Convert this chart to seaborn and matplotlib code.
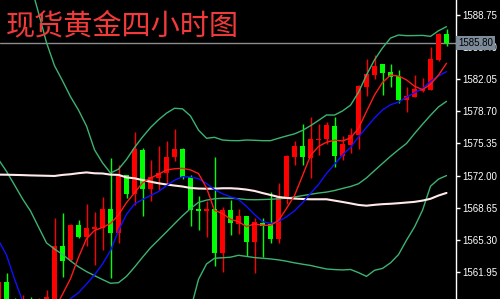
import numpy as np
import matplotlib
matplotlib.use("Agg")
import matplotlib.pyplot as plt
import seaborn as sns

# ---------------- data ----------------
title = "现货黄金四小时图"
bar_index = list(range(-1, 56))

opens = [1557.0, 1560.9, 1558.6, 1557.5, 1559.0, 1557.6, 1558.6, 1559.0, 1564.69, 1563.20,
         1566.85, 1565.63, 1566.47, 1566.57, 1568.52, 1566.05, 1572.07, 1570.08, 1574.67, 1570.61,
         1571.78, 1572.24, 1573.91, 1574.78, 1571.86, 1568.55, 1568.34, 1568.55, 1563.96, 1568.42,
         1566.92, 1567.82, 1565.11, 1567.03, 1566.92, 1565.36, 1569.64, 1573.97, 1575.06, 1573.87,
         1575.71, 1575.79, 1577.17, 1574.08, 1575.19, 1576.24, 1581.27, 1582.49, 1583.64, 1582.77,
         1582.39, 1579.89, 1580.23, 1580.82, 1580.93, 1584.06, 1586.77]
highs = [1561.4, 1561.85, 1559.2, 1559.55, 1559.3, 1559.2, 1560.07, 1567.61, 1568.10, 1566.95,
         1567.37, 1569.04, 1568.21, 1569.77, 1573.84, 1573.11, 1572.07, 1576.52, 1574.85, 1573.63,
         1575.09, 1575.61, 1576.86, 1574.91, 1572.07, 1569.88, 1569.35, 1573.94, 1568.73, 1569.46,
         1568.49, 1567.82, 1567.61, 1567.55, 1570.26, 1571.20, 1574.12, 1575.61, 1577.38, 1578.11,
         1577.38, 1577.59, 1578.14, 1576.13, 1576.94, 1581.45, 1584.13, 1584.58, 1583.64, 1583.64,
         1583.01, 1581.21, 1582.49, 1582.15, 1585.38, 1586.90, 1587.26]
lows = [1556.0, 1557.5, 1557.0, 1557.0, 1556.8, 1557.0, 1558.0, 1558.6, 1561.46, 1563.10,
        1565.53, 1564.69, 1562.68, 1564.28, 1561.32, 1565.01, 1569.64, 1568.94, 1567.82, 1569.35,
        1570.50, 1571.26, 1573.56, 1571.62, 1566.75, 1566.33, 1565.63, 1562.58, 1561.98, 1565.81,
        1565.91, 1563.65, 1561.88, 1563.48, 1565.01, 1564.94, 1569.04, 1573.11, 1573.11, 1571.72,
        1574.15, 1575.27, 1572.93, 1573.63, 1574.33, 1574.75, 1580.33, 1582.04, 1580.41, 1581.27,
        1579.60, 1578.67, 1580.23, 1580.75, 1580.93, 1583.95, 1585.55]
closes = [1560.9, 1558.5, 1557.8, 1559.0, 1557.6, 1558.8, 1559.3, 1564.69, 1563.10, 1566.85,
          1565.63, 1566.57, 1566.64, 1568.52, 1566.05, 1571.93, 1570.08, 1574.78, 1570.57, 1571.89,
          1572.27, 1573.94, 1574.78, 1571.86, 1568.45, 1568.34, 1568.55, 1563.96, 1568.45, 1567.03,
          1567.82, 1565.11, 1567.13, 1566.78, 1565.36, 1569.80, 1574.05, 1575.06, 1573.91, 1575.82,
          1575.85, 1577.25, 1574.08, 1575.27, 1576.24, 1581.35, 1582.60, 1583.43, 1582.73, 1582.32,
          1579.89, 1580.30, 1581.03, 1581.03, 1584.16, 1586.77, 1585.80]

bb_upper = [1603.66, 1600.74, 1597.93, 1595.01, 1591.98, 1588.98, 1585.86, 1583.46, 1581.89, 1580.23,
            1578.83, 1577.17, 1574.69, 1573.33, 1572.27, 1572.67, 1573.68, 1574.93, 1576.02, 1577.01,
            1577.82, 1578.51, 1579.02, 1578.96, 1578.22, 1576.74, 1575.89, 1575.99, 1575.71, 1575.65,
            1575.64, 1575.71, 1575.68, 1575.64, 1575.64, 1575.89, 1576.13, 1576.35, 1576.71, 1577.20,
            1577.75, 1578.32, 1578.31, 1578.74, 1579.34, 1580.68, 1582.50, 1584.07, 1585.31, 1586.34,
            1586.66, 1586.59, 1586.60, 1586.62, 1586.52, 1587.10, 1587.53]
bb_middle = [1573.68, 1572.44, 1571.02, 1569.58, 1568.31, 1566.64, 1564.98, 1564.34, 1563.78, 1563.10,
             1562.49, 1561.99, 1561.57, 1561.16, 1560.77, 1560.83, 1561.49, 1562.45, 1563.48, 1564.47,
             1565.30, 1566.13, 1566.98, 1567.81, 1568.56, 1569.21, 1569.44, 1569.58, 1569.64, 1569.64,
             1569.59, 1569.50, 1569.48, 1569.50, 1569.53, 1569.58, 1569.64, 1569.77, 1569.91, 1570.05,
             1570.18, 1570.28, 1570.44, 1570.66, 1570.86, 1571.15, 1571.76, 1572.52, 1573.27, 1574.01,
             1574.70, 1575.35, 1576.38, 1577.35, 1578.29, 1579.16, 1579.74]
bb_lower = [1543.7, 1544.1, 1544.1, 1544.2, 1544.6, 1544.3, 1544.1, 1545.2, 1545.7, 1546.0,
            1546.2, 1546.8, 1548.5, 1549.0, 1549.3, 1549.0, 1549.3, 1550.0, 1550.9, 1551.9,
            1552.8, 1553.8, 1554.9, 1556.7, 1558.0, 1561.18, 1562.78, 1563.38, 1563.43, 1563.49,
            1563.69, 1563.57, 1563.45, 1563.38, 1563.31, 1563.21, 1563.07, 1562.90, 1562.76, 1562.63,
            1562.44, 1562.26, 1562.20, 1562.16, 1562.21, 1561.88, 1561.49, 1562.12, 1562.32, 1562.90,
            1563.76, 1565.26, 1566.64, 1568.38, 1570.89, 1571.63, 1572.00]
ma_fast = [1557.5, 1557.8, 1557.9, 1558.0, 1558.1, 1558.0, 1557.9, 1558.04, 1559.62, 1561.25,
           1563.48, 1565.42, 1566.28, 1566.59, 1567.01, 1567.89, 1569.18, 1570.20, 1571.25, 1571.75,
           1572.13, 1572.59, 1572.71, 1572.76, 1572.59, 1572.21, 1570.73, 1568.37, 1568.05, 1567.45,
           1567.19, 1566.68, 1566.96, 1566.82, 1566.81, 1567.31, 1568.57, 1569.92, 1571.98, 1574.09,
           1575.04, 1575.48, 1575.69, 1575.61, 1575.92, 1576.92, 1578.69, 1580.40, 1581.71, 1582.48,
           1582.38, 1581.98, 1581.32, 1580.96, 1581.51, 1582.48, 1583.71]
ma_mid = [1565.25, 1563.72, 1561.22, 1558.93, 1557.6, 1557.0, 1556.9, 1557.3, 1558.2, 1559.18,
          1559.78, 1560.69, 1561.64, 1562.77, 1564.16, 1566.27, 1567.96, 1569.04, 1569.50, 1569.92,
          1570.33, 1570.95, 1571.51, 1571.89, 1571.84, 1571.68, 1571.18, 1570.54, 1570.11, 1569.79,
          1569.51, 1568.78, 1567.95, 1567.20, 1567.01, 1567.21, 1567.71, 1568.32, 1569.16, 1570.14,
          1571.07, 1572.22, 1573.18, 1574.15, 1574.92, 1576.02, 1577.03, 1578.00, 1578.84, 1579.39,
          1579.66, 1580.17, 1580.65, 1581.06, 1581.83, 1582.39, 1582.84]
ma_slow = [1572.10, 1572.09, 1572.07, 1572.05, 1572.02, 1572.00, 1571.98, 1571.96, 1572.07, 1572.14,
           1572.25, 1572.33, 1572.24, 1572.22, 1572.10, 1572.07, 1571.81, 1571.72, 1571.53, 1571.36,
           1571.20, 1571.07, 1570.96, 1570.86, 1570.71, 1570.65, 1570.63, 1570.64, 1570.68, 1570.68,
           1570.63, 1570.54, 1570.40, 1570.18, 1569.98, 1569.77, 1569.67, 1569.60, 1569.56, 1569.53,
           1569.53, 1569.53, 1569.39, 1569.25, 1569.10, 1568.94, 1568.86, 1568.95, 1569.02, 1569.06,
           1569.12, 1569.19, 1569.26, 1569.39, 1569.58, 1569.92, 1570.19]

y_ticks = [1561.95, 1565.30, 1568.65, 1572.00, 1575.35, 1578.70, 1582.05, 1585.40, 1588.75]
last_price = 1585.80

# ---------------- styling ----------------
sns.set_theme(style="dark")
plt.rcParams["font.family"] = ["Liberation Sans", "DejaVu Sans"]

BG = "#000000"
UP = "#ff0000"
DOWN = "#00ff00"
BAND = "#3cb371"

fig = plt.figure(figsize=(5.0, 2.99), dpi=100, facecolor=BG)
ax = fig.add_axes([0, 0, 456 / 500, 1])
ax.set_facecolor(BG)

x = np.array(bar_index, dtype=float)
o = np.array(opens); h = np.array(highs); l = np.array(lows); c = np.array(closes)
up = c >= o
colors = np.where(up, UP, DOWN)

# current price line
ax.axhline(last_price, color="#8c8c8c", lw=1.0, zorder=1)

# candles
ax.vlines(x, l, h, colors=colors, linewidth=1.0, zorder=3)
body_bottom = np.minimum(o, c)
body_h = np.maximum(np.abs(c - o), 0.08)
ax.bar(x, body_h, bottom=body_bottom, width=0.62, color=colors, linewidth=0, zorder=4)

# indicator lines via seaborn
for vals, col, lw in [(bb_upper, BAND, 1.0), (bb_middle, BAND, 1.0), (bb_lower, BAND, 1.0),
                      (ma_slow, "#ffe9e9", 1.5), (ma_mid, "#1010ff", 1.0), (ma_fast, "#ff1a1a", 1.0)]:
    sns.lineplot(x=x, y=vals, ax=ax, color=col, linewidth=lw, legend=False,
                 estimator=None, sort=False, zorder=5)

ax.set_xlim(-0.8125, 56.1875)
ax.set_ylim(1559.13, 1590.31)
ax.set_xlabel("")
ax.set_ylabel("")
ax.set_xticks([])
ax.grid(False)

ax.yaxis.tick_right()
ax.set_yticks(y_ticks)
ax.set_yticklabels([f"{v:.2f}" for v in y_ticks])
ax.tick_params(axis="y", colors="white", length=3, width=1, pad=1.5, labelsize=7,
               direction="out", right=True, left=False)
for side in ["left", "top", "bottom"]:
    ax.spines[side].set_visible(False)
ax.spines["right"].set_visible(True)
ax.spines["right"].set_color("white")
ax.spines["right"].set_linewidth(1.0)

# last price label box
ax.text(1.0045, last_price, f"{last_price:.2f}", transform=ax.get_yaxis_transform(),
        ha="left", va="center", fontsize=7, color="black", clip_on=False, zorder=10,
        bbox=dict(boxstyle="square,pad=0.18", fc="#7d8c9a", ec="none"))

# title
fig.text(0.012, 1 - 26 / 299, title, ha="left", va="center", fontsize=21,
         color="#f23a3a", family=["Noto Sans CJK SC", "DejaVu Sans"], zorder=20)

fig.savefig("out.png", dpi=100, facecolor=BG)
